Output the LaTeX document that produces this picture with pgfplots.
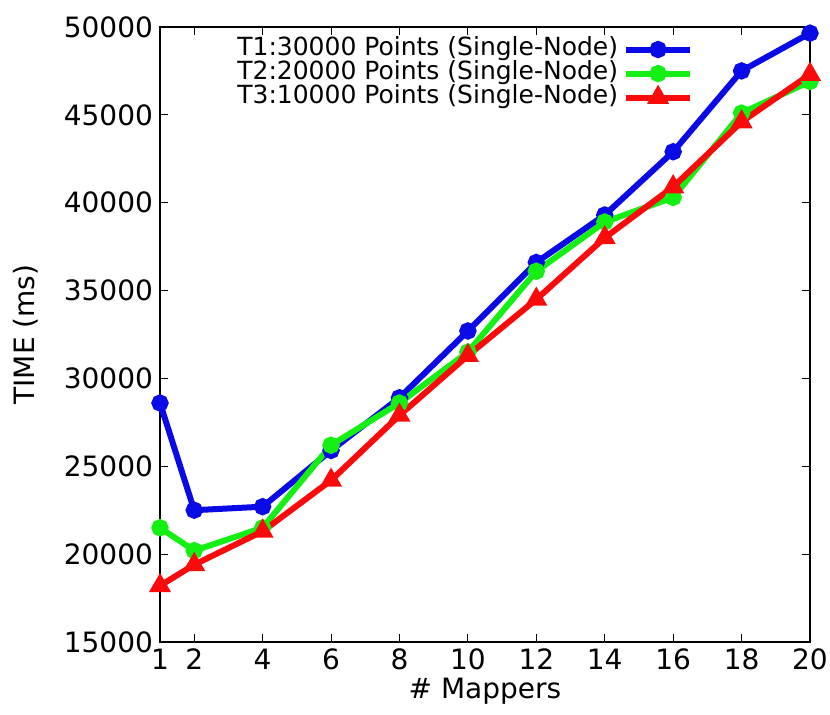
\documentclass[border=0pt]{standalone}
\usepackage{pgfplots}
\pgfplotsset{compat=1.18}
\usepackage{fontspec}
\setmainfont{DejaVu Sans}
\definecolor{cblue}{RGB}{10,10,230}
\definecolor{cgreen}{RGB}{20,240,20}
\definecolor{cred}{RGB}{250,10,10}
\begin{document}
\begin{tikzpicture}
\begin{axis}[
  name=ax,
  scale only axis,
  width=325pt, height=307.5pt,
  xmin=1, xmax=20, ymin=15000, ymax=50000,
  xtick={1,2,4,6,8,10,12,14,16,18,20},
  ytick={15000,20000,25000,30000,35000,40000,45000,50000},
  scaled y ticks=false,
  /pgf/number format/1000 sep={},
  /pgf/number format/assume math mode=true,
  tick align=inside,
  major tick length=4pt,
  tick style={black, line width=0.5pt},
  axis line style={black, line width=0.6pt},
  ticklabel style={font=\fontsize{14}{14}\selectfont},
  label style={font=\fontsize{14}{14}\selectfont},
  xlabel={\# Mappers},
  ylabel={TIME (ms)},
  xlabel style={yshift=3pt},
  ylabel style={yshift=6pt},
  legend style={
    at={(0.83,0.99)}, anchor=north east,
    draw=none, fill=none,
    font=\fontsize{12.5}{11}\selectfont,
    nodes={inner sep=0.5pt, text height=8.5pt, text depth=2.5pt},
    row sep=0pt,
    /tikz/every odd column/.append style={column sep=2pt},
  },
  legend plot pos=right,
  legend cell align=right,
  legend image post style={line width=3pt},
  legend image code/.code={
    \draw[#1] (0pt,0pt) -- (32pt,0pt);
    \draw[#1, mark repeat=1] plot coordinates {(16pt,0pt)};
  },
]
\addplot[color=cblue, line width=3pt, mark=*, mark size=2.8pt, mark options={solid}] coordinates {
(1,28600) (2,22500) (4,22700) (6,25900) (8,28900) (10,32700) (12,36600) (14,39300) (16,42900) (18,47500) (20,49650)
};
\addlegendentry{T1:30000 Points (Single-Node)}
\addplot[color=cgreen, line width=3pt, mark=*, mark size=2.8pt, mark options={solid}] coordinates {
(1,21500) (2,20200) (4,21500) (6,26200) (8,28600) (10,31500) (12,36100) (14,38900) (16,40300) (18,45100) (20,46900)
};
\addlegendentry{T2:20000 Points (Single-Node)}
\addplot[color=cred, line width=3pt, mark=triangle*, mark size=3.4pt, mark options={solid}] coordinates {
(1,18200) (2,19400) (4,21300) (6,24200) (8,27900) (10,31300) (12,34500) (14,38000) (16,40900) (18,44600) (20,47300)
};
\addlegendentry{T3:10000 Points (Single-Node)}
\end{axis}
\pgfresetboundingbox
\path ([xshift=-80pt,yshift=-36.5pt]ax.south west) rectangle ([xshift=10pt,yshift=13.5pt]ax.north east);
\end{tikzpicture}
\end{document}
